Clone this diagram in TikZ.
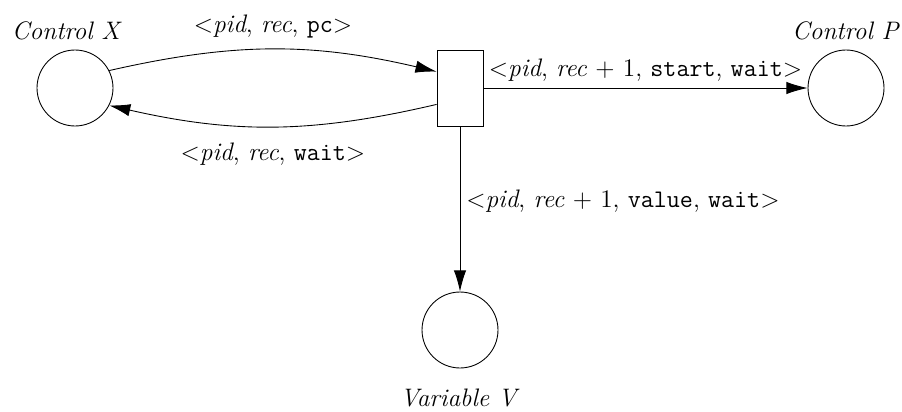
\documentclass[tikz,border=0pt]{standalone}
\usetikzlibrary{arrows.meta}
\begin{document}
\begin{tikzpicture}[>={Latex[length=12pt,width=7pt]},x=0.02cm,y=-0.02cm,font=\Large,line width=0.5pt,
    place/.style={circle,draw,minimum size=1.52cm,inner sep=0pt},
    trans/.style={rectangle,draw,minimum width=0.92cm,minimum height=1.52cm,inner sep=0pt}]
  \useasboundingbox (0,0) rectangle (902,412);
  \node[place,label={[xshift=-0.16cm,label distance=2pt]above:\textit{Control X}}] (ctlx) at (75,88) {};
  \node[trans] (step) at (460,88) {};
  \node[place,label={[label distance=2pt]above:\textit{Control P}}] (ctlp) at (846,88) {};
  \node[place,label={[label distance=8pt]below:\textit{Variable V}}] (varv) at (460,330) {};
  \draw[->] (ctlx.27) to[bend left=13] node[midway,above=3pt] {$<$\textit{pid}, \textit{rec}, \texttt{pc}$>$} (step.145);
  \draw[->] (step.215) to[bend left=13] node[midway,below=6pt] {$<$\textit{pid}, \textit{rec}, \texttt{wait}$>$} (ctlx.333);
  \draw[->] (step) -- node[midway,above] {$<$\textit{pid}, \textit{rec} + 1, \texttt{start}, \texttt{wait}$>$} (ctlp);
  \draw[->] (step) -- node[pos=0.45,right] {$<$\textit{pid}, \textit{rec} + 1, \texttt{value}, \texttt{wait}$>$} (varv);
\end{tikzpicture}
\end{document}
